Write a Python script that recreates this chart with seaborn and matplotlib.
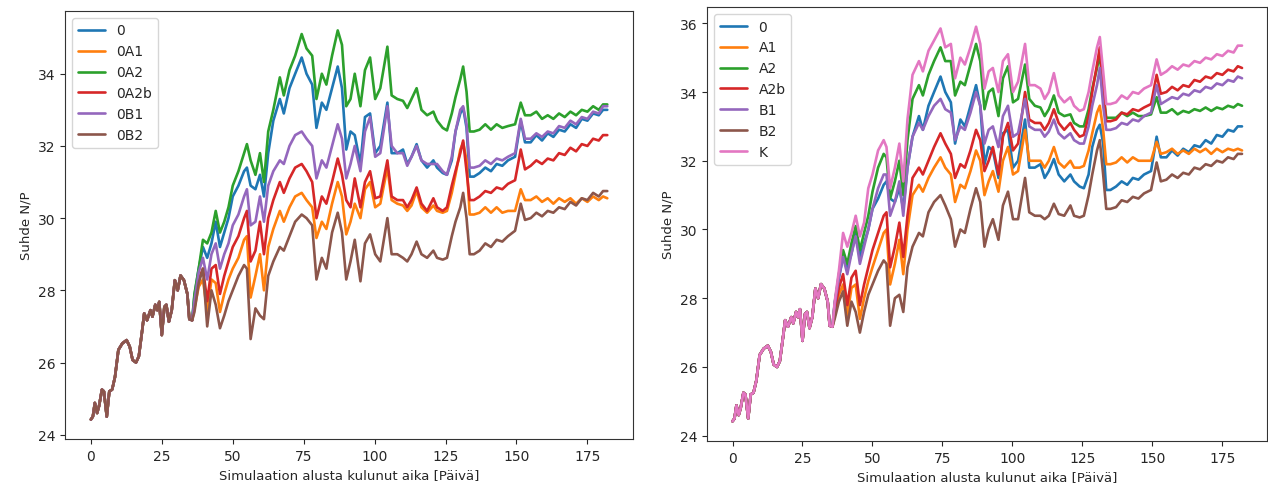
import matplotlib
matplotlib.use("Agg")
import matplotlib.pyplot as plt
import pandas as pd
import seaborn as sns

# ---- shared start of every simulation (identical for all scenarios) ----
early_days = [0, 0.7, 1.4, 2.2, 2.9, 3.9, 4.6, 5.6, 6.5, 7.5,
              8.5, 9.7, 11.1, 12.6, 13.7, 14.7, 15.9, 16.9, 18.1, 18.8,
              19.8, 21.0, 21.7, 22.7, 23.4, 24.1, 25.0, 25.9, 26.6, 27.5,
              28.5, 29.6, 30.6, 31.6, 32.8, 34.0, 34.7, 35.7]
early_vals = [24.42, 24.5, 24.88, 24.6, 24.8, 25.25, 25.2, 24.5, 25.2, 25.25,
              25.6, 26.35, 26.53, 26.62, 26.44, 26.07, 26.0, 26.17, 26.9, 27.36,
              27.17, 27.45, 27.27, 27.6, 27.45, 27.68, 26.76, 27.54, 27.6, 27.13,
              27.45, 28.28, 28.0, 28.41, 28.28, 27.9, 27.2, 27.17]

# ---- days after the scenarios diverge ----
days = [36.5, 38, 39.5, 41, 42.5, 44, 45.5, 47, 48.5, 50,
        52, 54, 55, 56.3, 58, 59.6, 61, 62.5, 64.3, 66.6,
        68, 70, 72, 74.3, 76, 78, 79.5, 81.4, 83, 85,
        87, 88.5, 90, 91.5, 93, 95, 96.6, 98.4, 100.2, 102,
        104.5, 106, 108, 110, 111.5, 113, 114.8, 116.5, 118.5, 120.7,
        122, 124, 125.5, 127.2, 128.5, 130.2, 131.2, 132.4, 133.5,
        135, 137, 139, 141, 143, 145, 147, 149.5, 151.5, 153,
        155, 157, 159, 161, 163, 165, 167, 169, 171, 173,
        175, 177, 179, 180.5, 182]

# baseline scenario "0" (same in both panels)
s_0 = [27.85, 28.6, 29.2, 28.9, 29.3, 29.9, 29.2, 29.6, 30.0, 30.6,
       30.9, 31.3, 31.4, 30.9, 30.8, 31.2, 30.6, 31.8, 32.7, 33.3,
       32.9, 33.6, 34.0, 34.45, 34.0, 33.7, 32.5, 33.2, 33.0, 33.6,
       34.2, 33.6, 31.9, 32.4, 32.3, 31.5, 32.8, 32.9, 31.8, 32.0,
       33.2, 31.8, 31.8, 31.9, 31.5, 31.7, 32.05, 31.6, 31.4, 31.6,
       31.4, 31.25, 31.2, 31.6, 32.4, 32.9, 33.05, 32.5, 31.15,
       31.15, 31.25, 31.4, 31.3, 31.5, 31.45, 31.6, 31.7, 32.7, 32.1,
       32.1, 32.3, 32.15, 32.35, 32.25, 32.45, 32.4, 32.6, 32.5, 32.75,
       32.7, 32.9, 32.85, 33.0, 33.0]

# ---- left panel scenarios ----
s_0A1 = [27.5, 28.1, 28.3, 27.4, 28.3, 28.2, 27.4, 27.9, 28.3, 28.6,
         28.9, 29.4, 29.5, 27.8, 28.4, 29.0, 28.0, 29.2, 29.7, 30.2,
         29.9, 30.3, 30.6, 30.7, 30.5, 30.3, 29.45, 29.9, 29.7, 30.4,
         31.0, 30.6, 29.55, 29.9, 30.4, 30.0, 30.8, 31.0, 30.3, 30.4,
         31.4, 30.5, 30.4, 30.35, 30.2, 30.35, 30.75, 30.3, 30.15, 30.35,
         30.2, 30.15, 30.2, 30.7, 31.2, 31.9, 32.1, 31.6, 30.1,
         30.1, 30.15, 30.3, 30.15, 30.3, 30.15, 30.2, 30.2, 30.8, 30.5,
         30.5, 30.6, 30.45, 30.55, 30.4, 30.55, 30.45, 30.55, 30.4, 30.55,
         30.45, 30.6, 30.5, 30.6, 30.55]
s_0A2 = [27.9, 28.6, 29.4, 29.3, 29.6, 30.2, 29.6, 29.9, 30.3, 30.9,
         31.3, 31.8, 32.05, 31.6, 31.2, 31.8, 31.0, 32.4, 33.0, 33.9,
         33.4, 34.1, 34.5, 35.1, 34.7, 34.5, 33.3, 34.0, 33.7, 34.5,
         35.2, 34.8, 33.1, 33.3, 34.0, 33.1, 34.1, 34.45, 33.3, 33.6,
         34.75, 33.4, 33.3, 33.25, 33.05, 33.3, 33.6, 33.0, 32.85, 32.95,
         32.7, 32.5, 32.43, 32.9, 33.35, 33.85, 34.2, 33.5, 32.4,
         32.4, 32.45, 32.6, 32.45, 32.6, 32.5, 32.55, 32.6, 33.2, 32.85,
         32.85, 32.95, 32.75, 32.85, 32.75, 32.9, 32.8, 32.95, 32.85, 33.0,
         32.95, 33.1, 33.0, 33.15, 33.15]
s_0A2b = [27.6, 28.3, 28.6, 27.7, 28.6, 28.7, 27.9, 28.4, 28.8, 29.2,
          29.5, 30.0, 30.2, 28.8, 29.1, 29.9, 29.0, 30.0, 30.5, 31.0,
          30.7, 31.1, 31.4, 31.5, 31.3, 31.0, 30.0, 30.6, 30.4, 31.0,
          31.65, 31.2, 30.5, 30.3, 31.1, 30.3, 31.0, 31.3, 30.55, 30.6,
          31.6, 30.6, 30.5, 30.5, 30.3, 30.5, 30.85, 30.4, 30.2, 30.55,
          30.3, 30.2, 30.3, 30.9, 31.3, 31.8, 32.15, 31.3, 30.5,
          30.5, 30.6, 30.75, 30.7, 30.85, 30.8, 30.95, 31.05, 31.9, 31.35,
          31.45, 31.6, 31.5, 31.65, 31.6, 31.8, 31.75, 31.95, 31.85, 32.05,
          32.0, 32.2, 32.15, 32.3, 32.3]
s_0B1 = [27.7, 28.5, 28.9, 28.3, 29.0, 29.3, 28.6, 29.0, 29.3, 29.8,
         30.1, 30.6, 30.8, 29.8, 29.9, 30.6, 29.9, 30.9, 31.3, 31.6,
         31.5, 32.0, 32.3, 32.4, 32.2, 32.0, 31.1, 31.6, 31.4, 32.0,
         32.6, 32.2, 31.1, 31.5, 32.0, 31.3, 32.4, 32.8, 31.7, 31.8,
         33.1, 32.0, 31.8, 31.8, 31.45, 31.7, 32.0, 31.6, 31.5, 31.5,
         31.5, 31.3, 31.2, 31.7, 32.4, 33.0, 33.1, 32.6, 31.4,
         31.4, 31.45, 31.6, 31.5, 31.65, 31.6, 31.7, 31.8, 32.75, 32.2,
         32.2, 32.35, 32.25, 32.4, 32.35, 32.55, 32.5, 32.7, 32.6, 32.8,
         32.75, 32.95, 32.9, 33.1, 33.1]
s_0B2 = [27.4, 28.2, 28.6, 27.0, 28.0, 27.6, 26.95, 27.3, 27.7, 28.0,
         28.4, 28.7, 28.6, 26.65, 27.5, 27.3, 27.2, 28.4, 28.8, 29.2,
         29.1, 29.5, 29.9, 30.1, 30.0, 29.8, 28.3, 28.9, 28.6, 29.6,
         30.15, 29.6, 28.3, 28.8, 29.4, 28.25, 29.3, 29.55, 29.0, 28.8,
         30.0, 29.0, 29.0, 28.9, 28.8, 29.0, 29.35, 29.0, 28.9, 29.1,
         28.9, 28.85, 28.9, 29.5, 29.9, 30.3, 30.7, 30.0, 29.0,
         29.0, 29.1, 29.3, 29.2, 29.4, 29.35, 29.5, 29.65, 30.4, 29.95,
         30.0, 30.15, 30.05, 30.2, 30.15, 30.3, 30.25, 30.45, 30.35, 30.55,
         30.5, 30.7, 30.6, 30.75, 30.75]

# ---- right panel scenarios ----
s_A1 = [27.5, 28.1, 28.4, 27.5, 28.3, 28.4, 27.4, 28.0, 28.5, 28.9,
        29.4, 29.9, 30.0, 28.4, 29.0, 29.7, 28.7, 30.0, 31.0, 31.3,
        31.1, 31.5, 31.8, 32.1, 31.8, 31.6, 30.8, 31.3, 31.2, 31.7,
        32.3, 32.0, 31.0, 31.4, 31.7, 31.1, 32.0, 32.4, 31.6, 31.7,
        32.9, 32.0, 32.0, 32.0, 31.8, 32.0, 32.4, 31.95, 31.8, 32.0,
        31.8, 31.8, 31.85, 32.3, 32.8, 33.4, 33.6, 32.9, 31.9,
        31.9, 31.95, 32.1, 31.95, 32.1, 32.0, 32.0, 32.0, 32.55, 32.2,
        32.25, 32.35, 32.2, 32.3, 32.2, 32.35, 32.25, 32.35, 32.2, 32.35,
        32.25, 32.35, 32.3, 32.35, 32.3]
s_A2 = [27.85, 28.7, 29.4, 29.0, 29.6, 30.1, 29.4, 29.9, 30.4, 31.1,
        31.8, 32.2, 32.1, 30.9, 31.4, 32.0, 31.0, 32.6, 33.8, 34.2,
        33.9, 34.5, 34.9, 35.3, 34.9, 34.9, 33.9, 34.3, 34.2, 34.8,
        35.4, 34.9, 33.5, 34.0, 34.1, 33.3, 34.4, 34.75, 33.7, 33.8,
        34.8, 33.8, 33.6, 33.55, 33.3, 33.5, 33.9, 33.4, 33.3, 33.35,
        33.1, 33.0, 33.0, 33.5, 34.1, 34.7, 35.1, 34.0, 33.25,
        33.25, 33.25, 33.4, 33.3, 33.4, 33.3, 33.3, 33.35, 33.85, 33.4,
        33.4, 33.5, 33.35, 33.45, 33.4, 33.5, 33.45, 33.55, 33.45, 33.55,
        33.5, 33.6, 33.55, 33.65, 33.6]
s_A2b = [27.6, 28.3, 28.7, 27.8, 28.6, 28.8, 27.8, 28.4, 28.9, 29.4,
         29.9, 30.4, 30.5, 28.9, 29.5, 30.2, 29.2, 30.4, 31.5, 31.8,
         31.6, 32.0, 32.4, 32.8, 32.5, 32.2, 31.5, 31.9, 31.8, 32.3,
         32.9, 32.6, 31.7, 32.0, 32.4, 31.6, 32.7, 33.1, 32.3, 32.5,
         34.0, 33.2, 33.1, 33.1, 32.9, 33.1, 33.5, 33.1, 32.9, 33.1,
         32.9, 32.7, 32.75, 33.3, 34.0, 34.8, 35.3, 34.1, 33.15,
         33.15, 33.2, 33.4, 33.35, 33.5, 33.45, 33.55, 33.65, 34.5, 33.95,
         34.0, 34.15, 34.05, 34.2, 34.15, 34.35, 34.3, 34.45, 34.4, 34.55,
         34.5, 34.65, 34.6, 34.75, 34.7]
s_B1 = [27.8, 28.6, 29.2, 28.7, 29.3, 29.8, 29.0, 29.5, 30.0, 30.6,
        31.2, 31.6, 31.6, 30.4, 30.8, 31.4, 30.4, 31.8, 32.7, 33.1,
        32.9, 33.3, 33.6, 33.8, 33.5, 33.4, 32.6, 33.0, 32.9, 33.4,
        34.0, 33.6, 32.5, 32.9, 33.0, 32.4, 33.3, 33.6, 32.7, 32.8,
        33.8, 33.0, 32.9, 32.9, 32.7, 32.85, 33.2, 32.8, 32.65, 32.8,
        32.6, 32.5, 32.5, 33.0, 33.6, 34.2, 34.7, 33.6, 32.9,
        32.9, 32.95, 33.1, 33.05, 33.2, 33.15, 33.3, 33.4, 34.2, 33.65,
        33.75, 33.85, 33.8, 33.95, 33.9, 34.05, 34.0, 34.15, 34.1, 34.25,
        34.2, 34.35, 34.3, 34.45, 34.4]
s_B2 = [27.4, 27.9, 28.2, 27.2, 27.9, 27.6, 27.0, 27.6, 28.1, 28.4,
        28.8, 29.1, 29.0, 27.2, 28.0, 28.1, 27.6, 28.9, 29.5, 29.9,
        29.8, 30.5, 30.8, 31.0, 30.7, 30.3, 29.5, 30.0, 29.9, 30.6,
        31.2, 30.8, 29.5, 30.0, 30.3, 29.7, 30.7, 31.1, 30.3, 30.3,
        31.5, 30.5, 30.4, 30.4, 30.3, 30.4, 30.75, 30.45, 30.4, 30.7,
        30.4, 30.35, 30.4, 31.0, 31.6, 32.3, 32.6, 31.6, 30.6,
        30.6, 30.65, 30.85, 30.8, 30.95, 30.9, 31.05, 31.15, 31.95, 31.4,
        31.45, 31.6, 31.5, 31.65, 31.6, 31.8, 31.75, 31.9, 31.85, 32.0,
        31.95, 32.1, 32.05, 32.2, 32.2]
s_K = [27.9, 28.8, 29.9, 29.5, 29.9, 30.4, 29.8, 30.2, 31.2, 31.6,
       32.3, 32.6, 32.4, 31.2, 31.8, 32.5, 31.4, 33.2, 34.5, 34.9,
       34.6, 35.2, 35.5, 35.85, 35.3, 35.4, 34.4, 35.0, 34.8, 35.3,
       35.9, 35.4, 34.1, 34.6, 34.7, 34.0, 34.9, 35.1, 34.0, 34.3,
       35.4, 34.2, 34.2, 34.1, 33.8, 34.0, 34.55, 33.9, 33.7, 33.85,
       33.6, 33.45, 33.5, 34.0, 34.6, 35.3, 35.6, 34.6, 33.65,
       33.65, 33.7, 33.9, 33.8, 34.0, 33.95, 34.1, 34.2, 34.95, 34.5,
       34.6, 34.75, 34.65, 34.8, 34.75, 34.9, 34.85, 35.0, 34.95, 35.1,
       35.05, 35.2, 35.15, 35.35, 35.35]

left_labels = ["0", "0A1", "0A2", "0A2b", "0B1", "0B2"]
left_series = [s_0, s_0A1, s_0A2, s_0A2b, s_0B1, s_0B2]
right_labels = ["0", "A1", "A2", "A2b", "B1", "B2", "K"]
right_series = [s_0, s_A1, s_A2, s_A2b, s_B1, s_B2, s_K]

palette = ["#1f77b4", "#ff7f0e", "#2ca02c", "#d62728", "#9467bd", "#8c564b", "#e377c2"]


def long_frame(labels, series):
    rows = []
    for lab, vals in zip(labels, series):
        for d, v in zip(early_days + days, early_vals + vals):
            rows.append({"day": d, "np": v, "scenario": lab})
    return pd.DataFrame(rows)


sns.set_style("ticks")
plt.rcParams["font.family"] = ["DejaVu Sans"]
plt.rcParams["font.size"] = 10
plt.rcParams["axes.edgecolor"] = "#333333"

fig = plt.figure(figsize=(12.68, 4.85), dpi=100)
ax1 = fig.add_axes([0.0513, 0.0928, 0.448, 0.8825])
ax2 = fig.add_axes([0.5576, 0.0887, 0.442, 0.8948])

for ax, labels, series in [(ax1, left_labels, left_series), (ax2, right_labels, right_series)]:
    df = long_frame(labels, series)
    sns.lineplot(data=df, x="day", y="np", hue="scenario", hue_order=labels,
                 palette=palette[:len(labels)], linewidth=1.9, sort=True,
                 estimator=None, ax=ax)
    ax.set_xlabel("Simulaation alusta kulunut aika [Päivä]", fontsize=9.5)
    ax.set_ylabel("Suhde N/P", fontsize=9.5)
    ax.tick_params(labelsize=10)
    sns.move_legend(ax, "upper left", title=None, frameon=True, fontsize=10)

ax1.set_xticks([0, 25, 50, 75, 100, 125, 150, 175])
ax2.set_xticks([0, 25, 50, 75, 100, 125, 150, 175])
ax1.set_yticks([24, 26, 28, 30, 32, 34])
ax2.set_yticks([24, 26, 28, 30, 32, 34, 36])

fig.savefig("out.png", dpi=100)
